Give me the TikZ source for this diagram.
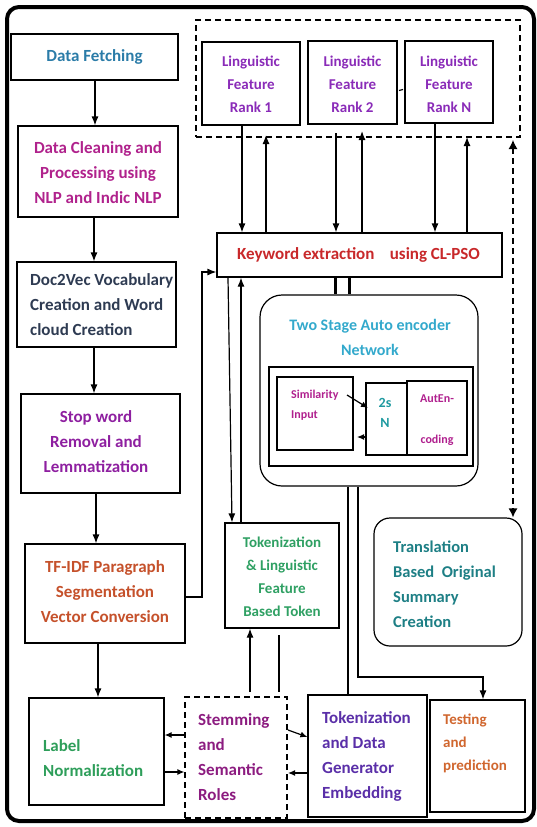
\documentclass[tikz,border=0pt]{standalone}
\usepackage{fontspec}
\setmainfont{Carlito}
\usetikzlibrary{arrows.meta,fit,calc}

\definecolor{cFetch}{HTML}{2B7CA8}
\definecolor{cClean}{HTML}{B0228C}
\definecolor{cDoc}{HTML}{2E3B52}
\definecolor{cStop}{HTML}{8E1FA0}
\definecolor{cTfidf}{HTML}{C5512B}
\definecolor{cLabel}{HTML}{2E9E5A}
\definecolor{cStem}{HTML}{8C1C80}
\definecolor{cTokL}{HTML}{2FA063}
\definecolor{cTokD}{HTML}{5A2FA8}
\definecolor{cTest}{HTML}{D0662E}
\definecolor{cTrans}{HTML}{1E7F85}
\definecolor{cAuto}{HTML}{33A9CC}
\definecolor{cRank}{HTML}{8A2BB8}
\definecolor{cKey}{HTML}{C8282A}
\definecolor{cSim}{HTML}{B0208E}
\definecolor{cTwoS}{HTML}{1F9AA0}

\tikzset{
  box/.style={draw, line width=1.2pt, inner sep=0pt},
  dbox/.style={box, dash pattern=on 6pt off 4pt},
  rbox/.style={box, rounded corners=16pt},
  txt/.style={font=\bfseries\fontsize{17}{25}\selectfont, inner sep=0pt},
  rtxt/.style={font=\bfseries\fontsize{15}{23}\selectfont, inner sep=0pt},
  stxt/.style={font=\bfseries\fontsize{12}{20}\selectfont, inner sep=0pt},
  arr/.style={line width=1.2pt, -{Latex[length=9pt,width=7pt]}},
  sarr/.style={line width=1.2pt, -{Latex[length=7pt,width=6pt]}},
  darr/.style={line width=1.2pt, dash pattern=on 6pt off 4pt,
    {Latex[length=9pt,width=9pt]}-{Latex[length=9pt,width=9pt]}},
  ln/.style={line width=1.2pt},
}

\begin{document}
\begin{tikzpicture}[x=1pt,y=-1pt]
\useasboundingbox (0,0) rectangle (537,827);

% outer frame
\draw[line width=4pt, rounded corners=12pt] (7,7) rectangle (534,821);

% left column of the pipeline
\node[box, fit={(11,34)(178,80)}] (fetch) {};
\node[txt, text=cFetch] (fetchtxt) at (94.5,57) {Data Fetching};
\node[box, fit={(18,126)(178,217)}] (clean) {};
\node[txt, text=cClean, align=center] (cleantxt) at (98,173)
  {Data Cleaning and\\Processing using\\NLP and Indic NLP};
\node[box, fit={(17,262)(176,347)}] (doc) {};
\node[txt, text=cDoc, align=left, anchor=west] (doctxt) at (30,305)
  {Doc2Vec Vocabulary\\Creation and Word\\cloud Creation};
\node[box, fit={(21,394)(180,493)}] (stop) {};
\node[txt, text=cStop, align=center] (stoptxt) at (96,442)
  {Stop word\\Removal and\\Lemmatization};
\node[box, fit={(25,544)(185,643)}] (tfidf) {};
\node[txt, text=cTfidf, align=center] (tfidftxt) at (105,592)
  {TF-IDF Paragraph\\Segmentation\\Vector Conversion};
\node[box, fit={(29,698)(164,805)}] (label) {};
\node[txt, text=cLabel, align=left, anchor=west] (labeltxt) at (43,758)
  {Label\\Normalization};

% bottom row
\node[dbox, fit={(185,697)(287,818)}] (stem) {};
\node[txt, text=cStem, align=left, anchor=west] (stemtxt) at (198,757)
  {Stemming\\and\\Semantic\\Roles};
\node[box, fit={(308,695)(427,817)}] (tokd) {};
\node[txt, text=cTokD, align=left, anchor=west] (tokdtxt) at (322,756)
  {Tokenization\\and Data\\Generator\\Embedding};
\node[box, fit={(430,700)(525,812)}] (test) {};
\node[rtxt, text=cTest, align=left, anchor=west] (testtxt) at (443,743)
  {Testing\\and\\prediction};

% middle column
\node[box, fit={(225,523)(339,628)}] (tokl) {};
\node[rtxt, text=cTokL, align=center] (tokltxt) at (282,577)
  {Tokenization\\\& Linguistic\\Feature\\Based Token};
\node[rbox, fit={(374,518)(522,646)}] (trans) {};
\node[txt, font=\bfseries\fontsize{16.5}{25}\selectfont, text=cTrans, align=left, anchor=west] (transtxt) at (393,584.5)
  {Translation\\Based\ \ Original\\Summary\\Creation};

% linguistic feature ranks
\node[dbox, fit={(196,20)(520,137)}] (ranks) {};
\node[box, fit={(202,42)(300,125)}] (r1) {};
\node[rtxt, text=cRank, align=center] (r1txt) at (251,84.5) {Linguistic\\Feature\\Rank 1};
\node[box, fit={(308,41)(397,124)}] (r2) {};
\node[rtxt, text=cRank, align=center] (r2txt) at (352.5,84) {Linguistic\\Feature\\Rank 2};
\node[box, fit={(405,41)(493,123)}] (rn) {};
\node[rtxt, text=cRank, align=center] (rntxt) at (449,84) {Linguistic\\Feature\\Rank N};

% keyword extraction
\node[box, fit={(217,233)(502,277)}] (key) {};
\node[txt, text=cKey] (keytxt) at (358.5,255) {Keyword extraction\ \ \ \ using CL-PSO};

% two stage auto encoder
\node[box, rounded corners=22pt, fit={(260,295)(478,486)}] (auto) {};
\node[font=\bfseries\fontsize{16}{25}\selectfont, inner sep=0pt, text=cAuto, align=center] (autotxt) at (370,337.5)
  {Two Stage Auto encoder\\Network};
\node[box, fit={(269,367)(473,466)}] (inner) {};
\node[box, fit={(277,377)(353,450)}] (sim) {};
\node[stxt, text=cSim, align=left, anchor=west] (simtxt) at (291,405) {Similarity\\Input};
\node[box, fit={(366,383)(407,455)}] (twos) {};
\node[font=\bfseries\fontsize{14}{20}\selectfont, inner sep=0pt, text=cTwoS, align=center] (twostxt) at (385,413) {2s\\N};
\node[box, fit={(407,381)(467,455)}] (auten) {};
\node[stxt, text=cSim] (autena) at (437,399) {AutEn-};
\node[stxt, text=cSim] (autenb) at (437,440) {coding};

% main pipeline arrows
\draw[arr] (fetch.south -| 95,0) -- (clean.north -| 95,0);
\draw[arr] (clean.south -| 94,0) -- (doc.north -| 94,0);
\draw[arr] (doc.south -| 94,0) -- (stop.north -| 94,0);
\draw[arr] (stop.south -| 96,0) -- (tfidf.north -| 96,0);
\draw[arr] (tfidf.south -| 98,0) -- (label.north -| 98,0);
\draw[arr] (tfidf.east |- 0,597) -| (202,272) -- (key.west |- 0,272);

% ranks <-> keyword extraction
\draw[arr] (r1.south -| 242,0) -- (key.north -| 242,0);
\draw[arr] (key.north -| 266,0) -- (266,135);
\draw[arr] (336,133) -- (key.north -| 336,0);
\draw[arr] (key.north -| 362,0) -- (362,131);
\draw[arr] (rn.south -| 435,0) -- (key.north -| 435,0);
\draw[arr] (key.north -| 467,0) -- (467,137);
\draw[ln] (399,90.5) -- (403,89.5);

% keyword extraction <-> tokenization
\draw[arr] (key.south -| 228,0) -- (tokl.north -| 232,0);
\draw[arr] (tokl.north -| 241,0) -- (key.south -| 241,0);

% keyword extraction -- auto encoder
\draw[line width=3pt] (key.south -| 335,0) -- (auto.north -| 335,0);
\draw[line width=3pt] (key.south -| 349,0) -- (auto.north -| 349,0);

% auto encoder outputs
\draw[ln] (auto.south -| 348,0) -- (tokd.north -| 348,0);
\draw[arr] (auto.south -| 358,0) |- (483,677) -- (test.north -| 483,0);

% ranks <-> translation
\draw[darr] (513,140) -- (trans.north -| 513,0);

% stemming links
\draw[arr] (250,692) -- (tokl.south -| 250,0);
\draw[ln] (279,635) -- (279,692);
\draw[sarr] (stem.west |- 0,735) -- (label.east |- 0,735);
\draw[sarr] (label.east |- 0,772) -- (stem.west |- 0,772);
\draw[sarr] (288,730) -- (tokd.west |- 0,737);
\draw[sarr] (tokd.west |- 0,773) -- (288,773);

% inner auto encoder arrows
\draw[sarr] (347,395) -- (368,408);
\draw[sarr] (twos.west |- 0,437) -- (357,437);
\end{tikzpicture}
\end{document}
